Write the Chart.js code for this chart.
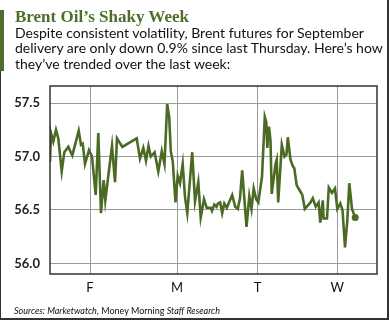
<!DOCTYPE html>
<html>
<head>
<meta charset="utf-8">
<script src="https://cdn.jsdelivr.net/npm/chart.js@4"></script>
<style>
  body { margin: 0; background: #fff; }
  #wrap { position: relative; width: 390px; height: 321px; background: #fff; overflow: hidden; }
  #chartBrent { position: absolute; left: 0; top: 0; }
  .title { position: absolute; left: 15px; top: 8px; font: bold 17px "Liberation Serif", serif; line-height: 17px; color: #4f6e2c; white-space: nowrap; }
  .intro { position: absolute; left: 15px; top: 24.5px; font: 14px Lato, sans-serif; line-height: 15.5px; color: #111; white-space: nowrap; }
  .source { position: absolute; left: 14px; top: 306px; font: 9px Lato, sans-serif; line-height: 10px; color: #111; white-space: nowrap; }
  .frame-l { position: absolute; left: 0; top: 71px; width: 1px; height: 249px; background: #333; }
  .frame-r { position: absolute; left: 387px; top: 0; width: 2px; height: 320px; background: #333; }
  .frame-b { position: absolute; left: 0; top: 318px; width: 389px; height: 2px; background: #333; }
  .bar { position: absolute; left: 0; top: 10px; width: 4px; height: 61px; background: #4f6e2c; }
</style>
</head>
<body>
<div id="wrap">
  <canvas id="chartBrent" width="390" height="321"></canvas>
  <div class="bar"></div>
  <div class="frame-l"></div>
  <div class="frame-r"></div>
  <div class="frame-b"></div>
  <div class="title">Brent Oil’s Shaky Week</div>
  <div class="intro">Despite consistent volatility, Brent futures for September<br>delivery are only down 0.9% since last Thursday. Here’s how<br>they’ve trended over the last week:</div>
  <div class="source"><i>Sources: Marketwatch,</i> Money Morning <i>Staff Research</i></div>
</div>
<script>
// trading-sample position (Thursday start = 0) and Brent price, USD/bbl
const sampleIdx = [
    0, 0.5, 1.65, 3, 4.15, 5.85, 7.15, 9.15, 11.15, 14.35, 15.5, 16.35, 17.5, 19.5, 21,
    22.85, 24.15, 25.5, 26.85, 27.65, 31, 32.5, 33.5, 36.15, 43.35, 45, 46.65, 48, 49.25, 50.4,
    52.3, 54.15, 55.9, 57.25, 58.6, 59.6, 60.4, 61.4, 62.75, 63.85, 65, 66.35, 67.5, 68.65, 71.1,
    72.5, 74.15, 75.35, 77, 78.35, 80.35, 81, 82.15, 83.25, 84, 85.1, 86.1, 87.15, 88.4, 91.1,
    92.6, 93.9, 95, 96.1, 97.15, 98.25, 99.65, 100.75, 101.85, 103.1, 104.15, 106, 107.4, 108.15, 108.65,
    109.5, 110.25, 110.85, 111.75, 112.75, 113.35, 114.1, 115.9, 117.25, 118.25, 118.9, 120.25, 121.4, 122.15, 123.35,
    125.25, 126.15, 127.4, 130.25, 131.4, 132.85, 134.3, 135.15, 136.4, 136.8, 138.5, 139.4, 141, 142.5, 143.65,
    145.15, 146.25, 147.5, 148.65, 149.65, 151, 152.6
];
const brentPrice = [
    56.95, 57.22, 57.14, 57.25, 57.17, 56.86, 57.04, 57.09, 57.01, 57.24, 57.11, 57.12, 56.93, 57.06, 57.00,
    56.64, 57.22, 56.47, 56.78, 56.59, 57.10, 56.76, 57.17, 57.09, 57.17, 56.98, 57.08, 56.96, 57.10, 57.00,
    57.04, 56.86, 57.05, 56.93, 57.49, 57.37, 57.05, 56.95, 56.57, 56.82, 56.75, 56.93, 56.62, 56.47, 57.04,
    56.58, 56.76, 56.43, 56.60, 56.52, 56.52, 56.49, 56.55, 56.53, 56.56, 56.57, 56.47, 56.56, 56.52, 56.64,
    56.53, 56.51, 56.61, 56.87, 56.61, 56.34, 56.63, 56.51, 56.70, 56.60, 56.57, 56.81, 57.37, 57.32, 57.08,
    57.28, 57.15, 56.65, 56.78, 56.93, 56.97, 56.57, 57.11, 57.00, 57.02, 57.18, 56.97, 56.91, 56.89, 56.73,
    56.67, 56.64, 56.51, 56.57, 56.61, 56.53, 56.57, 56.38, 56.59, 56.42, 56.42, 56.71, 56.66, 56.70, 56.51,
    56.56, 56.50, 56.15, 56.40, 56.75, 56.51, 56.43
];
const dayLabels = ['F', 'M', 'T', 'W'];
const dayStart = [20, 63.5, 103.85, 143.65];
const priceTicks = [56.0, 56.5, 57.0, 57.5];

const plotFrame = {
    id: 'plotFrame',
    afterDraw(chart) {
        const { ctx, chartArea: a } = chart;
        ctx.save();
        ctx.strokeStyle = '#333';
        ctx.lineWidth = 1.5;
        ctx.strokeRect(a.left, a.top, a.right - a.left, a.bottom - a.top);
        ctx.restore();
    }
};

const lastIdx = brentPrice.length - 1;

new Chart(document.getElementById('chartBrent').getContext('2d'), {
    type: 'line',
    data: {
        datasets: [{
            data: sampleIdx.map((x, i) => ({ x: x, y: brentPrice[i] })),
            borderColor: '#4b6b25',
            backgroundColor: '#4b6b25',
            borderWidth: 2.6,
            tension: 0,
            pointRadius: ctx => ctx.dataIndex === lastIdx ? 3.5 : 0,
            pointBorderWidth: 0
        }]
    },
    options: {
        responsive: false,
        animation: false,
        layout: { padding: { left: 10, top: 86, right: 13, bottom: 0 } },
        plugins: { legend: { display: false }, tooltip: { enabled: false } },
        scales: {
            x: {
                type: 'linear',
                min: 0,
                max: 163.5,
                afterFit: s => { s.height = 47; },
                afterBuildTicks: s => { s.ticks = dayStart.map(v => ({ value: v })); },
                ticks: {
                    callback: (v, i) => dayLabels[i],
                    color: '#111',
                    font: { family: 'Lato', size: 13 },
                    padding: 6,
                    maxRotation: 0,
                    autoSkip: false
                },
                grid: { color: '#9a9a9a', lineWidth: 1, drawTicks: false },
                border: { display: false }
            },
            y: {
                min: 55.9,
                max: 57.66,
                afterFit: s => { s.width = 40; },
                afterBuildTicks: s => { s.ticks = priceTicks.map(v => ({ value: v })); },
                ticks: {
                    callback: v => v.toFixed(1),
                    color: '#222',
                    font: { family: 'Lato', size: 13, weight: 'bold' },
                    padding: 10
                },
                grid: { color: '#9a9a9a', lineWidth: 1, drawTicks: false },
                border: { display: false }
            }
        }
    },
    plugins: [plotFrame]
});
</script>
</body>
</html>
